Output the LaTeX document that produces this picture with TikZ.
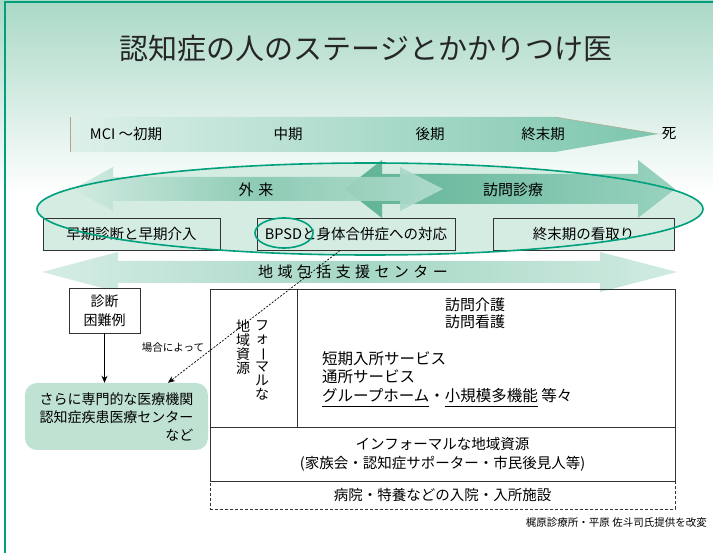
\documentclass[tikz,border=0pt]{standalone}
\usepackage{fontspec}
\setmainfont{Noto Sans CJK JP}
\usepackage{graphicx}
\usetikzlibrary{arrows.meta,positioning,calc}
\definecolor{tealln}{HTML}{00A07C}
\definecolor{inkd}{HTML}{333333}
\definecolor{bgtop}{HTML}{A9D8C6}
\definecolor{mintbg}{HTML}{D5ECE3}
\definecolor{specfill}{HTML}{BFE2D3}
\definecolor{stgl}{HTML}{DDF0E9}
\definecolor{stgr}{HTML}{7CC6AE}
\definecolor{tanln}{HTML}{B9A27E}
\definecolor{gail}{HTML}{D2EBE1}
\definecolor{gaim}{HTML}{88C9B2}
\definecolor{gair}{HTML}{B3DDCE}
\definecolor{homl}{HTML}{5FB295}
\definecolor{homr}{HTML}{98D2BE}
\definecolor{hokl}{HTML}{D6EDE5}
\definecolor{hokm}{HTML}{A6D7C5}
\definecolor{hokr}{HTML}{D0EBE1}
\newcommand{\hs}{\hspace{4.4pt}}
\newcommand{\uln}[1]{\underline{\rule[-4pt]{0pt}{1pt}#1}}
\tikzset{
  ttl/.style={font=\fontsize{29}{32}\selectfont, inner sep=0pt, text=black!85},
  box/.style={rectangle, draw=inkd, fill=mintbg, line width=0.9pt, inner sep=2pt,
              font=\fontsize{14.5}{17}\selectfont, minimum height=32pt},
  cell/.style={rectangle, draw=inkd, line width=0.9pt, inner sep=0pt, outer sep=0pt,
               font=\fontsize{14.5}{19}\selectfont},
  stg/.style={font=\fontsize{14.5}{17}\selectfont, inner sep=0pt},
  tx/.style={font=\fontsize{15.5}{18.5}\selectfont, inner sep=0pt},
  vtx/.style={font=\fontsize{14}{13.8}\selectfont, inner sep=0pt, align=center},
  small/.style={font=\fontsize{10.5}{12}\selectfont, inner sep=0pt},
  spec/.style={rectangle, rounded corners=12pt, fill=specfill, align=right,
               minimum width=183pt, minimum height=67pt, inner sep=0pt,
               font=\fontsize{14}{18}\selectfont},
  arr/.style={-{Stealth[length=7pt,width=6pt]}, line width=0.8pt, draw=black},
  ring/.style={draw=tealln, line width=1.6pt},
}
\begin{document}
\begin{tikzpicture}[x=1pt, y=-1pt]
  \useasboundingbox (0,0) rectangle (713,553);
  % slide background
  \fill[white] (0,0) rectangle (713,553);
  \shade[top color=bgtop, bottom color=white] (0,0) rectangle (713,195);
  \draw[tealln, line width=1.2pt] (5,553) -- (5,2) -- (713,2);
  \node[ttl] (ttl) at (366,48) {認知症の人のステージとかかりつけ医};

  % stages
  \shade[left color=stgl, right color=stgr] (70,117) -- (555,117) -- (658,134) -- (555,152) -- (70,152) -- cycle;
  \draw[tanln, line width=0.6pt] (70,117) -- (70,152);
  \draw[tanln, line width=0.4pt] (555,117) -- (658,134) -- (662,134);
  \node[stg] (mci) at (126,134) {MCI ～初期};
  \node[stg] (mid) at (288,134) {中期};
  \node[stg] (late) at (430,134) {後期};
  \node[stg] (term) at (543,134) {終末期};
  \node[stg] (death) at (669,134) {死};

  % care ellipse and arrows
  \fill[mintbg] (370,209) ellipse [x radius=333, y radius=46];
  \shade[left color=homl, right color=homr]
    (345,189) -- (382,160) -- (382,174) -- (638,174) -- (638,160) -- (675,189)
    -- (638,218) -- (638,204) -- (382,204) -- (382,218) -- cycle;
  \shade[left color=gail, right color=gair, middle color=gaim, opacity=0.92]
    (73,189) -- (113,167) -- (113,177) -- (400,177) -- (400,167) -- (443,189)
    -- (400,211) -- (400,201) -- (113,201) -- (113,211) -- cycle;
  \node[stg, font=\fontsize{15}{17}\selectfont] (gairai) at (256,190) {外\hspace{5pt}来};
  \node[stg, font=\fontsize{15}{17}\selectfont] (houmon) at (513,190) {訪問診療};

  \node[box, minimum width=177pt] (early) at (131.5,234) {早期診断と早期介入};
  \node[box, minimum width=198pt] (bpsd) at (356,234) {BPSDと身体合併症への対応};
  \node[box, minimum width=181pt] (mitori) at (583.5,234) {終末期の看取り};
  \draw[ring] (370,209) ellipse [x radius=333, y radius=46];
  \draw[ring] (284,233) ellipse [x radius=29, y radius=15];

  % community center
  \shade[left color=hokl, right color=hokr, middle color=hokm]
    (42,272) -- (118,252) -- (118,261) -- (600,261) -- (600,252) -- (677,272)
    -- (600,292) -- (600,283) -- (118,283) -- (118,292) -- cycle;
  \node[stg, font=\fontsize{15}{17}\selectfont] (hokatsu) at (353,272)
    {地\hs 域\hs 包\hs 括\hs 支\hs 援\hs セ\hs ン\hs タ\hs ー};

  % referral
  \node[box, fill=white, minimum width=71pt, minimum height=45pt, align=center,
        font=\fontsize{14}{19}\selectfont] (diff) at (104.5,310.5) {診断\\困難例};
  \node[spec] (spec) at (116.5,416.5) {さらに専門的な医療機関\\認知症疾患医療センター\\など};
  \draw[arr] (diff) -- (diff |- spec.north);

  % resources
  \node[cell, minimum width=87pt, minimum height=138pt, anchor=north west] (fmlL) at (210,289) {};
  \node[cell, minimum width=378pt, minimum height=138pt, right=0pt of fmlL] (fmlR) {};
  \node[cell, minimum width=465pt, minimum height=54pt, anchor=north west, align=center]
    (infml) at (fmlL.south west) {インフォーマルな地域資源\\(家族会・認知症サポーター・市民後見人等)};
  \node[cell, dashed, dash pattern=on 3pt off 2pt, line width=0.7pt, minimum width=465pt,
        minimum height=28pt, below=0pt of infml] (inst) {病院・特養などの入院・入所施設};
  \draw[inkd, line width=0.9pt] (infml.south west) -- (infml.south east);
  \node[vtx, anchor=north] (fmlv) at (262,320)
    {フ\\ォ\\\rotatebox[origin=c]{-90}{ー}\\マ\\ル\\な};
  \node[vtx, anchor=north] (chiki) at (243,320) {地\\域\\資\\源};
  \node[tx, align=center, font=\fontsize{15}{17}\selectfont] (visit) at (475,313.5) {訪問介護\\訪問看護};
  \node[tx, align=left, anchor=north west] (svc) at (322,351)
    {短期入所サービス\\通所サービス\\\uln{グループホーム}・\uln{小規模多機能} 等々};

  \draw[arr, dash pattern=on 2pt off 1.5pt, line width=0.7pt]
    ($(bpsd.south west)!0.42!(bpsd.south east)$) --
    node[pos=0.73, left=10pt, small] (case) {場合によって} ([xshift=51.5pt]spec.north);

  \node[small, anchor=east] (credit) at (707,523) {梶原診療所・平原 佐斗司氏提供を改変};
\end{tikzpicture}
\end{document}
